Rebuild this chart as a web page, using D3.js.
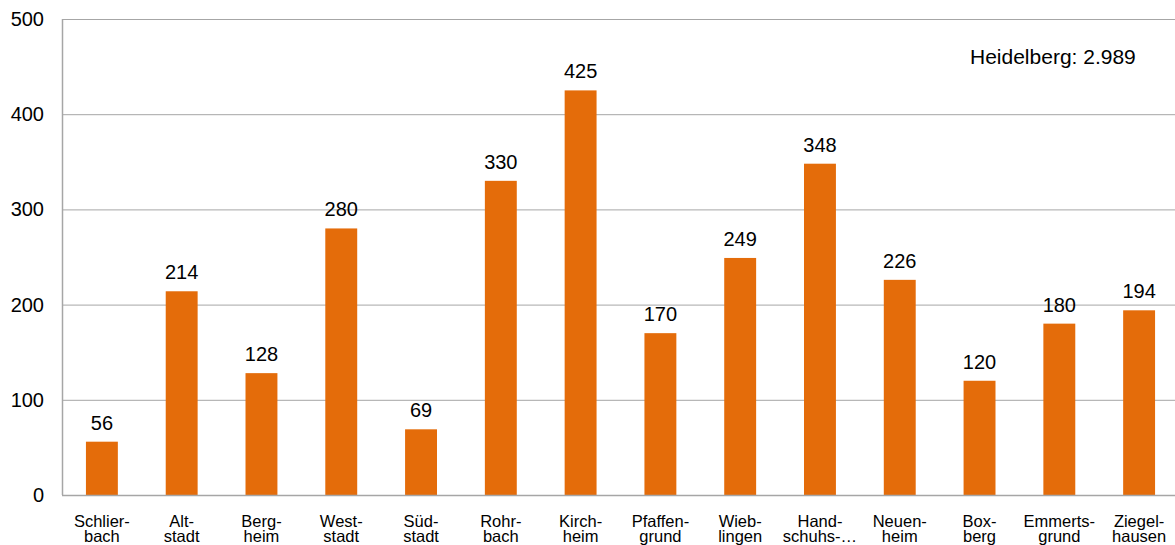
<!DOCTYPE html>
<html>
<head>
<meta charset="utf-8">
<script src="https://cdn.jsdelivr.net/npm/d3@7"></script>
<style>
  html, body { margin: 0; padding: 0; background: #fff; }
  svg { display: block; font-family: "Liberation Sans", Arial, sans-serif; }
</style>
</head>
<body>
<svg id="chart" width="1175" height="545"></svg>
<script>
// Stadtteile (two-line labels) and their values
const categories = [
  ["Schlier-", "bach"], ["Alt-", "stadt"], ["Berg-", "heim"], ["West-", "stadt"],
  ["Süd-", "stadt"], ["Rohr-", "bach"], ["Kirch-", "heim"], ["Pfaffen-", "grund"],
  ["Wieb-", "lingen"], ["Hand-", "schuhs-…"], ["Neuen-", "heim"], ["Box-", "berg"],
  ["Emmerts-", "grund"], ["Ziegel-", "hausen"]
];
const values = [56, 214, 128, 280, 69, 330, 425, 170, 249, 348, 226, 120, 180, 194];
const yTicks = [0, 100, 200, 300, 400, 500];
const totalLabel = "Heidelberg: 2.989";

const svg = d3.select("#chart");
const margin = { left: 62, right: -4, top: 19, bottom: 50 };
const W = 1175, H = 545;
const x0 = margin.left, x1 = W - margin.right;
const yTop = margin.top, yBot = H - margin.bottom;

const keys = categories.map((d, i) => i);
const x = d3.scaleBand().domain(keys).range([x0, x1]).paddingInner(0.6).paddingOuter(0.3);
const y = d3.scaleLinear().domain([0, 500]).range([yBot, yTop]);

const grid = "#a6a6a6";

// horizontal gridlines
svg.append("g").selectAll("line").data(yTicks.filter(t => t > 0)).join("line")
  .attr("x1", x0).attr("x2", W)
  .attr("y1", d => y(d) + 0.5).attr("y2", d => y(d) + 0.5)
  .attr("stroke", grid).attr("stroke-width", 1);

// y axis labels
const yAxis = d3.axisLeft(y).tickValues(yTicks).tickSize(0).tickPadding(18);
const ya = svg.append("g").attr("transform", `translate(${x0},0)`).call(yAxis);
ya.select(".domain").remove();
ya.selectAll("text").attr("font-size", 20).attr("fill", "#000")
  .attr("font-family", "'Liberation Sans', Arial, sans-serif");

// bars
svg.append("g").selectAll("rect").data(values).join("rect")
  .attr("x", (d, i) => x(i))
  .attr("y", d => y(d))
  .attr("width", x.bandwidth())
  .attr("height", d => yBot - y(d))
  .attr("fill", "#e46c0a");

// value labels
svg.append("g").selectAll("text").data(values).join("text")
  .attr("x", (d, i) => x(i) + x.bandwidth() / 2)
  .attr("y", d => y(d) - 12)
  .attr("text-anchor", "middle")
  .attr("font-size", 20)
  .attr("fill", "#000")
  .text(d => d);

// axis lines
svg.append("line").attr("x1", x0 + 0.5).attr("x2", x0 + 0.5)
  .attr("y1", yTop).attr("y2", yBot).attr("stroke", grid).attr("stroke-width", 1.5);
svg.append("line").attr("x1", x0).attr("x2", W)
  .attr("y1", yBot + 0.5).attr("y2", yBot + 0.5).attr("stroke", grid).attr("stroke-width", 1.5);

// category labels, two lines each
const cat = svg.append("g").selectAll("text").data(categories).join("text")
  .attr("x", (d, i) => x(i) + x.bandwidth() / 2)
  .attr("y", yBot + 32)
  .attr("text-anchor", "middle")
  .attr("font-size", 16.5)
  .attr("fill", "#000");
cat.each(function(d) {
  const t = d3.select(this);
  d.forEach((line, j) => {
    t.append("tspan").attr("x", t.attr("x")).attr("dy", j === 0 ? 0 : 14.5).text(line);
  });
});

// total annotation
svg.append("text").attr("x", 970).attr("y", 64)
  .attr("font-size", 21).attr("fill", "#000").text(totalLabel);
</script>
</body>
</html>
